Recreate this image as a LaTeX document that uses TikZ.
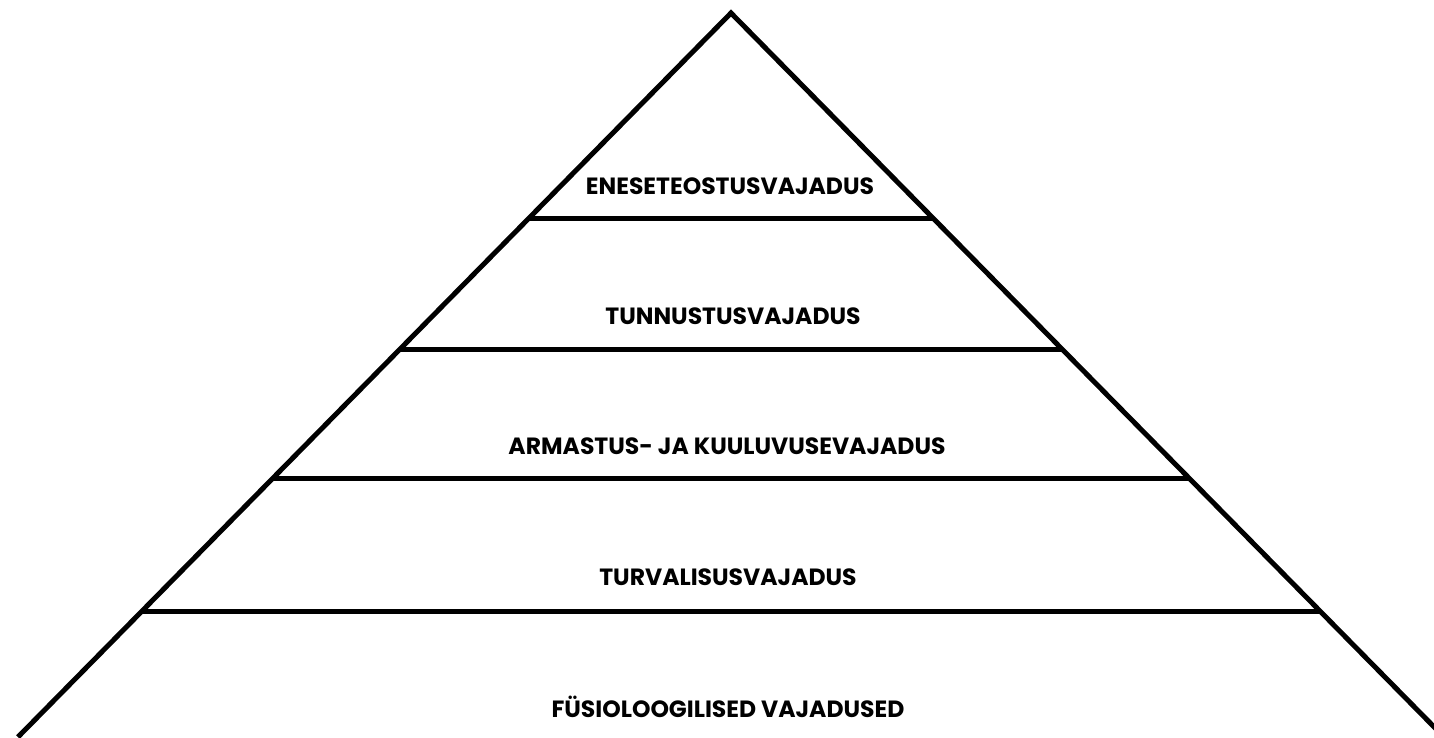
\documentclass[tikz,border=0pt]{standalone}
\usepackage{fontspec}
\newfontfamily\lblfont{Poppins}
\begin{document}
\begin{tikzpicture}[x=1pt,y=-1pt,
  edge/.style={line width=5pt,black,line join=miter},
  lbl/.style={font=\lblfont\bfseries\fontsize{23.5}{28}\selectfont,inner sep=0pt,anchor=center}]
\useasboundingbox (0,0) rectangle (1434,737);
\clip (0,0) rectangle (1434,737);
\coordinate (A) at (731,13);
\coordinate (Lb) at (18,737);
\coordinate (Rb) at (1444,737);
\coordinate (L1) at (529,218);
\coordinate (R1) at (933,218);
\coordinate (L2) at (400,349);
\coordinate (R2) at (1062,349);
\coordinate (L3) at (273,478);
\coordinate (R3) at (1189,478);
\coordinate (L4) at (142,611);
\coordinate (R4) at (1320,611);
\draw[edge] (Lb) -- (A) -- (Rb);
\draw[edge] (L1) -- (R1);
\draw[edge] (L2) -- (R2);
\draw[edge] (L3) -- (R3);
\draw[edge] (L4) -- (R4);
\node[lbl] (t1) at (730,186) {ENESETEOSTUSVAJADUS};
\node[lbl] (t2) at (733,316) {TUNNUSTUSVAJADUS};
\node[lbl] (t3) at (727,446) {ARMASTUS- JA KUULUVUSEVAJADUS};
\node[lbl] (t4) at (728,577) {TURVALISUSVAJADUS};
\node[lbl] (t5) at (728,707) {FÜSIOLOOGILISED VAJADUSED};
\end{tikzpicture}
\end{document}
